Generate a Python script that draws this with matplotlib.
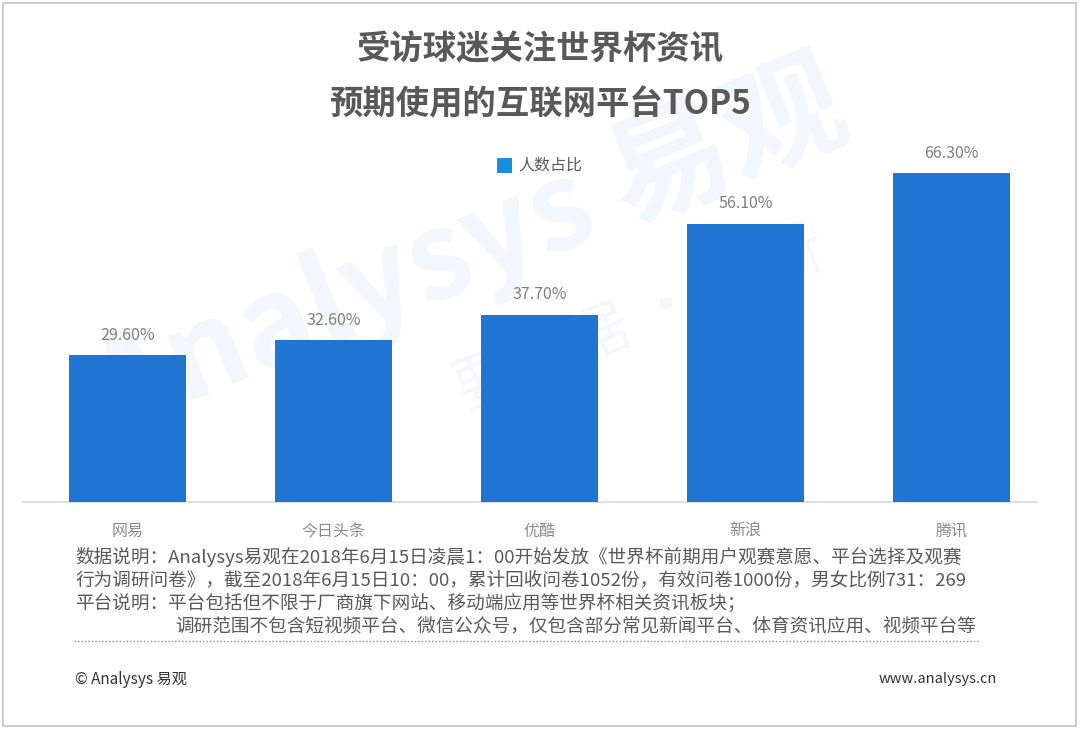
import matplotlib
matplotlib.use('Agg')
import matplotlib.pyplot as plt
from matplotlib.patches import Rectangle
from matplotlib.lines import Line2D

plt.rcParams['font.family'] = ['Noto Sans CJK SC', 'DejaVu Sans']

# ---- data ----
platforms = ['网易', '今日头条', '优酷', '新浪', '腾讯']
share = [29.6, 32.6, 37.7, 56.1, 66.3]
series_name = '人数占比'
title_lines = ['受访球迷关注世界杯资讯', '预期使用的互联网平台TOP5']
notes = [
    '数据说明：Analysys易观在2018年6月15日凌晨1：00开始发放《世界杯前期用户观赛意愿、平台选择及观赛',
    '行为调研问卷》，截至2018年6月15日10：00，累计回收问卷1052份，有效问卷1000份，男女比例731：269',
    '平台说明：平台包括但不限于厂商旗下网站、移动端应用等世界杯相关资讯板块；',
    '调研范围不包含短视频平台、微信公众号，仅包含部分常见新闻平台、体育资讯应用、视频平台等',
]
source_left = '© Analysys 易观'
source_right = 'www.analysys.cn'

W, H = 1080, 730
bar_color = '#1f75d1'
legend_color = '#1a8fdc'


def fx(px):
    return px / W


def fy(py):
    return 1 - py / H


fig = plt.figure(figsize=(W / 100, H / 100), dpi=100)
fig.patch.set_facecolor('white')

# outer frame
fig.add_artist(Rectangle((fx(3), fy(726)), fx(1073), 723 / H, transform=fig.transFigure,
                         fill=False, edgecolor='#c4c4c4', lw=1.2))

# faint watermark, kept behind the axes
fig.text(fx(470), fy(250), 'Analysys 易观', fontsize=88, color='#f2f7fd', rotation=22,
         ha='center', va='center', fontweight='bold', zorder=-1)
fig.text(fx(640), fy(320), '要数据 · 分析', fontsize=44, color='#f4f8fd', rotation=22,
         ha='center', va='center', zorder=-1)

# ---- axes ----
ax = fig.add_axes([fx(23), fy(502), fx(1037 - 23), (502 - 150) / H])
ax.patch.set_alpha(0)
x = list(range(len(platforms)))
ax.bar(x, share, width=0.57, color=bar_color, zorder=3)
ax.set_xlim((23 - 127.5) / 206, (1037 - 127.5) / 206)
ax.set_ylim(0, 352 / 4.96)

for xi, v in zip(x, share):
    ax.annotate(f'{v:.2f}%', (xi, v), xytext=(0, 14.5), textcoords='offset points',
                ha='center', va='center', fontsize=11.5, color='#7f7f7f')

ax.set_xticks(x)
ax.set_xticklabels(platforms, fontsize=11.5, color='#8c8c8c')
ax.tick_params(axis='x', length=0, pad=15)
ax.set_yticks([])
for s in ['top', 'right', 'left']:
    ax.spines[s].set_visible(False)
ax.spines['bottom'].set_color('#d9d9d9')
ax.spines['bottom'].set_linewidth(1.2)

# ---- title ----
fig.text(fx(540), fy(50), title_lines[0], fontsize=24, fontweight='bold', color='#595959',
         ha='center', va='center')
fig.text(fx(540), fy(105), title_lines[1], fontsize=24, fontweight='bold', color='#595959',
         ha='center', va='center')

# ---- legend ----
fig.add_artist(Rectangle((fx(497), fy(173)), fx(15), 15 / H, transform=fig.transFigure,
                         facecolor=legend_color, edgecolor='none'))
fig.text(fx(518), fy(165), series_name, fontsize=11.5, color='#595959', ha='left', va='center')

# ---- notes ----
note_y = [557, 580, 603, 626]
note_x = [75, 75, 75, 175]
for t, nx, ny in zip(notes, note_x, note_y):
    fig.text(fx(nx), fy(ny), t, fontsize=13.4, color='#595959', ha='left', va='center')

fig.add_artist(Line2D([fx(74), fx(978)], [fy(641), fy(641)], transform=fig.transFigure,
                      color='#8c8c8c', lw=1, linestyle=(0, (1, 1.5))))

fig.text(fx(75), fy(680), source_left, fontsize=11, color='#333333', ha='left', va='center')
fig.text(fx(997), fy(679), source_right, fontsize=10.5, color='#333333', ha='right', va='center')

fig.savefig('out.png', dpi=100, facecolor='white')
